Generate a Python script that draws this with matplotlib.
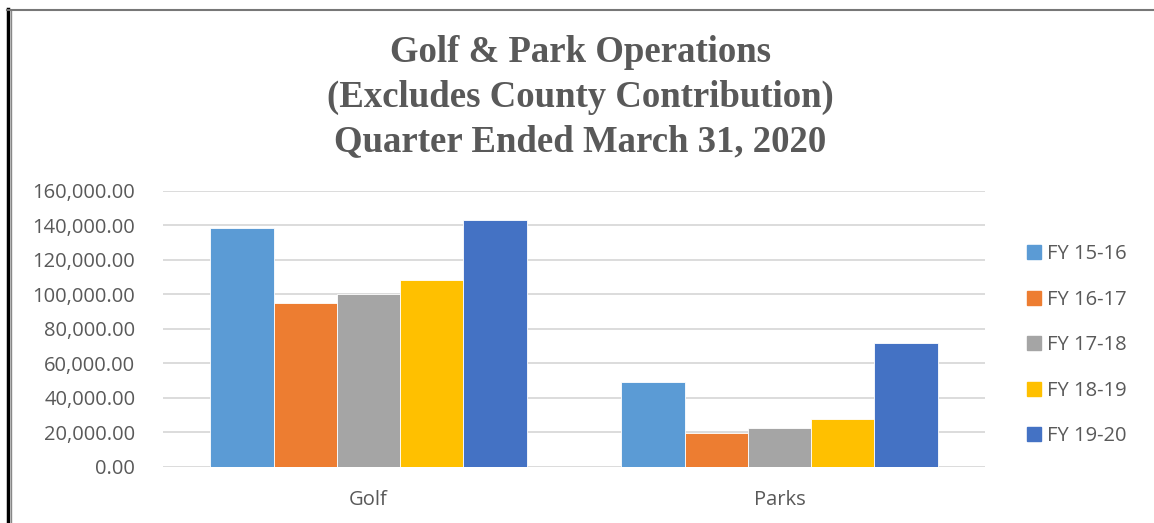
import matplotlib.pyplot as plt
from matplotlib.lines import Line2D
import numpy as np

categories = ["Golf", "Parks"]
series = ["FY 15-16", "FY 16-17", "FY 17-18", "FY 18-19", "FY 19-20"]
values = {
    "FY 15-16": [138400, 49300],
    "FY 16-17": [94900, 19500],
    "FY 17-18": [100300, 22300],
    "FY 18-19": [108400, 27500],
    "FY 19-20": [143000, 71500],
}
colors = ["#5B9BD5", "#ED7D31", "#A5A5A5", "#FFC000", "#4472C4"]
yticks = [0, 20000, 40000, 60000, 80000, 100000, 120000, 140000, 160000]

txt = "#595959"
plt.rcParams["font.family"] = ["Open Sans", "DejaVu Sans"]

fig = plt.figure(figsize=(11.54, 5.23), dpi=100)
ax = fig.add_axes([0.1413, 0.1076, 0.8536 - 0.1413, 0.6354 - 0.1076])

x = np.arange(len(categories))
w = 0.154
for i, s in enumerate(series):
    ax.bar(x + (i - 2) * w, values[s], width=w, color=colors[i], label=s,
           edgecolor="white", linewidth=0.6, zorder=3)

ax.set_xlim(-0.5, 1.5)
ax.set_ylim(0, 160000)
ax.set_yticks(yticks)
ax.set_yticklabels([f"{v:,.2f}" for v in yticks])
ax.set_xticks(x)
ax.set_xticklabels(categories)
ax.grid(axis="y", color="#D9D9D9", linewidth=1.3, zorder=0)
for sp in ax.spines.values():
    sp.set_visible(False)
ax.tick_params(axis="both", length=0, labelsize=14.5, labelcolor=txt)
ax.tick_params(axis="y", pad=20)
ax.tick_params(axis="x", pad=17)

fig.text(0.503, 0.8145, "Golf & Park Operations\n(Excludes County Contribution)\nQuarter Ended March 31, 2020",
         ha="center", va="center", fontsize=26.5, fontweight="bold", color=txt,
         family=["Liberation Serif", "DejaVu Serif"], linespacing=1.34)

handles = [plt.Rectangle((0, 0), 1, 1, color=c) for c in colors]
leg = fig.legend(handles, series, loc="center left", bbox_to_anchor=(0.890, 0.340),
                 frameon=False, fontsize=14.5, handlelength=0.7, handleheight=0.7,
                 handletextpad=0.3, labelspacing=1.27, borderaxespad=0, borderpad=0)
for t in leg.get_texts():
    t.set_color(txt)

# outer frame lines
fig.add_artist(Line2D([0.0072, 0.0072], [0, 0.983], color="black", linewidth=2.5, transform=fig.transFigure))
fig.add_artist(Line2D([0.0095, 0.0095], [0, 0.981], color="#888888", linewidth=1, transform=fig.transFigure))
fig.add_artist(Line2D([0.006, 1.0], [0.981, 0.981], color="#777777", linewidth=1.5, transform=fig.transFigure))

fig.savefig("out.png", dpi=100)
